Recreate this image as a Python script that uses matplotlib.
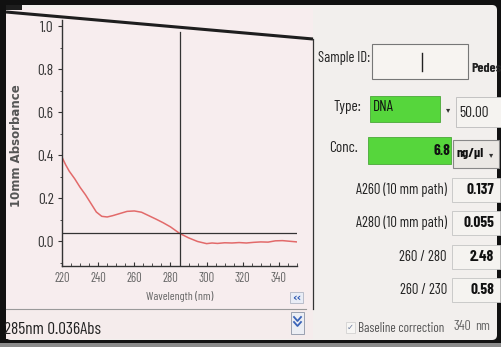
import matplotlib
matplotlib.use("Agg")
import matplotlib.pyplot as plt
from matplotlib.patches import Rectangle, FancyBboxPatch
from matplotlib.ticker import MultipleLocator

# spectrum (nm, 10 mm absorbance)
wavelength = [220, 222, 224, 227, 230, 233, 236, 239, 242, 245, 248, 252, 256,
              260, 264, 268, 272, 276, 280, 285, 290, 295, 300, 303, 306, 310,
              314, 318, 322, 326, 330, 334, 338, 342, 346, 350]
absorbance = [0.39, 0.355, 0.325, 0.29, 0.25, 0.215, 0.175, 0.135, 0.115, 0.112,
              0.118, 0.128, 0.138, 0.140, 0.134, 0.118, 0.102, 0.085, 0.066,
              0.036, 0.015, -0.002, -0.012, -0.009, -0.011, -0.008, -0.009,
              -0.007, -0.009, -0.006, -0.004, -0.005, 0.001, 0.002, -0.001, -0.004]

cursor_nm = 285
cursor_abs = 0.036
x_ticks = [220, 240, 260, 280, 300, 320, 340]
y_ticks = [0.0, 0.2, 0.4, 0.6, 0.8, 1.0]

# right-hand readout panel
result_labels = ["A260 (10 mm path)", "A280 (10 mm path)", "260 / 280", "260 / 230"]
result_values = ["0.137", "0.055", "2.48", "0.58"]
sample_type = "DNA"
type_factor = "50.00"
conc_value = "6.8"
conc_unit = "ng/µl"
baseline_nm = "340"

# narrow UI font -- first one installed wins
FONT = ["Barlow Condensed", "Roboto Condensed", "Archivo Narrow", "DejaVu Sans"]
SYM = ["DejaVu Sans"]
plt.rcParams["font.family"] = FONT

W, H = 501, 347
fig = plt.figure(figsize=(W / 100, H / 100), dpi=100, facecolor="#111111")

# --- pixel-space overlay for the instrument UI ------------------------------
ui = fig.add_axes([0, 0, 1, 1], zorder=0)
ui.set_xlim(0, W)
ui.set_ylim(H, 0)
ui.axis("off")

ui.add_patch(Rectangle((0, 343), W, 4, facecolor="#8a8a8a", lw=0))
ui.add_patch(FancyBboxPatch((6, 5), 491, 335, boxstyle="round,pad=0,rounding_size=5",
                            facecolor="#f2efed", edgecolor="none"))
ui.add_patch(Rectangle((6, 8), 307, 301, facecolor="#f7edee", lw=0))
ui.add_patch(Rectangle((6, 309), 307, 30, facecolor="#f5ecec", lw=0))
# slanted bezel edge and panel borders
ui.plot([6, 313], [12, 39], color="#1e1e1e", lw=2.2, solid_capstyle="butt")
ui.add_patch(Rectangle((6, 5), 16, 5, facecolor="#1e1e1e", lw=0))
ui.plot([313, 313], [39, 309], color="#333333", lw=0.9)
ui.plot([6, 306], [309, 309], color="#9a9a9a", lw=0.8)

# status bar
ui.text(4, 330, "%dnm %.3fAbs" % (cursor_nm, cursor_abs), fontsize=12.5,
        color="#222222", va="center", ha="left")
ui.add_patch(Rectangle((291, 312), 13, 22, facecolor="#eceef4", edgecolor="#9aa0b0", lw=0.7))
for yy in (317, 322):
    ui.plot([294, 297.5, 301], [yy, yy + 4, yy], color="#3a63b8", lw=1.3)
ui.add_patch(Rectangle((290, 292), 13, 11, facecolor="#e9edf6", edgecolor="#b0b6c4", lw=0.6))
ui.text(296.5, 297.5, "‹‹", fontsize=8, color="#2a55b0", ha="center", va="center",
        fontweight="bold", family=SYM)

# sample id
ui.text(318, 58, "Sample ID:", fontsize=10.5, color="#222222", va="center")
ui.add_patch(Rectangle((372, 44), 96, 35, facecolor="#f7f4f1", edgecolor="#777777", lw=0.8))
ui.plot([422, 422], [53, 71], color="#222222", lw=1.0)
ui.text(471, 68, "Pedes", fontsize=10, color="#222222", va="center", fontweight="bold")

# type
GREEN = "#56d63c"
ui.text(361, 107, "Type:", fontsize=11, color="#222222", va="center", ha="right")
ui.add_patch(Rectangle((370, 96), 70, 26, facecolor=GREEN, edgecolor="#4aa838", lw=0.6))
ui.text(373, 107, sample_type, fontsize=11, color="#111111", va="center")
ui.text(448, 110, "▾", fontsize=6, color="#333333", va="center", ha="center", family=SYM)
ui.add_patch(Rectangle((456, 97), 45, 30, facecolor="#f5f3f0", edgecolor="#bbbbbb", lw=0.6))
ui.text(459, 113, type_factor, fontsize=11, color="#222222", va="center")

# concentration
ui.text(358, 148, "Conc.", fontsize=11, color="#222222", va="center", ha="right")
ui.add_patch(Rectangle((368, 137), 83, 27, facecolor=GREEN, edgecolor="#4aa838", lw=0.6))
ui.text(450, 151, conc_value, fontsize=11, color="#111111", va="center", ha="right",
        fontweight="bold")
ui.add_patch(Rectangle((453, 140), 46, 28, facecolor="#ebe8e4", edgecolor="#888888", lw=0.8))
ui.text(457, 153, conc_unit, fontsize=10, color="#111111", va="center", fontweight="bold")
ui.text(491, 155, "▾", fontsize=6, color="#333333", va="center", ha="center", family=SYM)

# ratios / absorbances
row_y = [190, 223, 257, 290]
for label, value, yy in zip(result_labels, result_values, row_y):
    ui.text(447, yy, label, fontsize=10.5, color="#222222", va="center", ha="right")
    ui.add_patch(Rectangle((452, yy - 12), 48, 24, facecolor="#f5f3f0",
                           edgecolor="#c4c4c4", lw=0.6))
    ui.text(494, yy, value, fontsize=11, color="#111111", va="center", ha="right",
            fontweight="bold")

# baseline correction
ui.add_patch(Rectangle((346, 322), 9, 11, facecolor="#f7f6f4", edgecolor="#cccccc", lw=0.5))
ui.text(350.5, 327.5, "✓", fontsize=6, color="#6a7a9a", ha="center", va="center", family=SYM)
ui.text(358, 328, "Baseline correction", fontsize=9.5, color="#555555", va="center")
ui.text(453, 326, baseline_nm, fontsize=10, color="#666666", va="center")
ui.text(475, 327, "nm", fontsize=10, color="#666666", va="center")

# --- spectrum plot ------------------------------------------------------------
px_left, px_right, px_top, px_bot = 62, 297, 20, 266
ax = fig.add_axes([px_left / W, 1 - px_bot / H, (px_right - px_left) / W,
                   (px_bot - px_top) / H], zorder=1)
ax.patch.set_alpha(0)
ax.plot(wavelength, absorbance, color="#e26a6a", lw=1.1)
ax.axvline(cursor_nm, ymin=0, ymax=0.95, color="#333333", lw=0.9)
ax.axhline(cursor_abs, color="#333333", lw=0.9)
ax.set_xlim(220, 350)
ax.set_ylim(-0.116, 1.028)
ax.set_xticks(x_ticks)
ax.set_yticks(y_ticks)
ax.xaxis.set_minor_locator(MultipleLocator(5))
ax.yaxis.set_minor_locator(MultipleLocator(0.1))
ax.set_yticklabels(["%.1f" % v for v in y_ticks])
for s in ("top", "right"):
    ax.spines[s].set_visible(False)
for s in ("left", "bottom"):
    ax.spines[s].set_color("#333333")
    ax.spines[s].set_linewidth(1.0)
ax.tick_params(axis="x", direction="in", length=3, width=0.8, labelsize=9,
               labelcolor="#666666", color="#333333", pad=4)
ax.tick_params(axis="x", which="minor", direction="in", length=2, width=0.6, color="#333333")
ax.tick_params(axis="y", direction="out", length=3, width=0.8, labelsize=11,
               labelcolor="#333333", color="#333333", pad=3)
ax.tick_params(axis="y", which="minor", direction="out", length=1.5, width=0.6, color="#333333")
ax.set_xlabel("Wavelength (nm)", fontsize=8.5, color="#666666", labelpad=5)
ax.set_ylabel("10mm Absorbance", fontsize=8.5, color="#555555", fontweight="bold",
              family=["DejaVu Sans"])
ax.yaxis.set_label_coords((23 - px_left) / (px_right - px_left), 0.49)

fig.savefig("out.png", dpi=100, facecolor=fig.get_facecolor())
